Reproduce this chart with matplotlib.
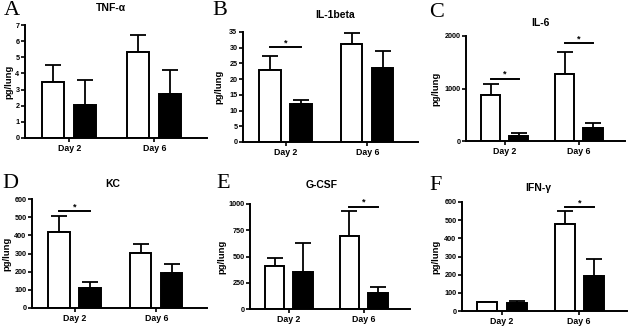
import matplotlib
matplotlib.use("Agg")
import matplotlib.pyplot as plt

plt.rcParams['font.family'] = ['Liberation Sans', 'DejaVu Sans']
plt.rcParams['font.weight'] = 'bold'

days = ["Day 2", "Day 6"]

# cytokine panels: means and upper error (top of bar whisker)
tnf_mean = [3.5, 5.3];   tnf_mean_b = [2.05, 2.7]
tnf_top = [4.5, 6.4];    tnf_top_b = [3.6, 4.2]
il1_mean = [22.8, 31.3]; il1_mean_b = [12.0, 23.6]
il1_top = [27.5, 34.8];  il1_top_b = [13.4, 29.0]
il6_mean = [870, 1280];  il6_mean_b = [100, 250]
il6_top = [1090, 1700];  il6_top_b = [160, 350]
kc_mean = [420, 305];    kc_mean_b = [108, 195]
kc_top = [505, 350];     kc_top_b = [143, 243]
gcsf_mean = [405, 695];  gcsf_mean_b = [355, 155]
gcsf_top = [490, 935];   gcsf_top_b = [630, 210]
ifn_mean = [47, 480];    ifn_mean_b = [46, 192]
ifn_top = [52, 550];     ifn_top_b = [53, 288]

titles = ["TNF-\u03b1", "IL-1beta", "IL-6", "KC", "G-CSF", "IFN-\u03b3"]
letters = ["A", "B", "C", "D", "E", "F"]
yticks = [list(range(0, 8)), list(range(0, 36, 5)), [0, 1000, 2000],
          list(range(0, 601, 100)), [0, 250, 500, 750, 1000], list(range(0, 601, 100))]
# significance bars: (day index, height)
sig = [[], [(0, 30.2)], [(0, 1190), (1, 1860)], [(0, 532)], [(1, 975)], [(1, 570)]]

data = [(tnf_mean, tnf_top, tnf_mean_b, tnf_top_b),
        (il1_mean, il1_top, il1_mean_b, il1_top_b),
        (il6_mean, il6_top, il6_mean_b, il6_top_b),
        (kc_mean, kc_top, kc_mean_b, kc_top_b),
        (gcsf_mean, gcsf_top, gcsf_mean_b, gcsf_top_b),
        (ifn_mean, ifn_top, ifn_mean_b, ifn_top_b)]

W, H = 628, 327
# axes boxes in pixels: left, right, top, bottom
boxes = [(25, 207, 25, 138), (243, 418, 32, 142), (466, 625, 36, 141),
         (32, 207, 199, 308), (250, 410, 204, 309), (462, 627, 202, 311)]
title_pos = [(111, 8), (335, 15), (540, 23), (113, 184), (322, 185), (538, 188)]
letter_pos = [(4, 1), (212, 1), (429, 3), (2, 174), (216, 174), (429, 176)]
ylab_x = [13, 223, 440, 11, 226, 440]

fig = plt.figure(figsize=(W / 100, H / 100), dpi=100)

bw = 0.26
off = 0.19
for i in range(6):
    l, r, t, b = boxes[i]
    ax = fig.add_axes([l / W, 1 - b / H, (r - l) / W, (b - t) / H])
    m1, t1, m2, t2 = data[i]
    x = [0, 1]
    for k in x:
        ax.bar(k - off, m1[k], bw, color="white", edgecolor="black", lw=1.4, zorder=2)
        ax.bar(k + off, m2[k], bw, color="black", edgecolor="black", lw=1.4, zorder=2)
        ax.errorbar(k - off, m1[k], yerr=[[0], [t1[k] - m1[k]]], fmt="none",
                    ecolor="black", elinewidth=1.3, capsize=6, capthick=1.3, zorder=1)
        ax.errorbar(k + off, m2[k], yerr=[[0], [t2[k] - m2[k]]], fmt="none",
                    ecolor="black", elinewidth=1.3, capsize=6, capthick=1.3, zorder=1)
    for d, h in sig[i]:
        ax.plot([d - off, d + off], [h, h], color="black", lw=1.4, clip_on=False)
        ax.text(d, h, "*", ha="center", va="bottom", fontsize=6.5, fontweight="bold")
    ax.set_xlim(-0.52, 1.62)
    ax.set_ylim(0, yticks[i][-1])
    ax.set_yticks(yticks[i])
    ax.set_xticks(x)
    ax.set_xticklabels(days)
    for s in ["top", "right"]:
        ax.spines[s].set_visible(False)
    for s in ["left", "bottom"]:
        ax.spines[s].set_linewidth(1.4)
    ax.tick_params(direction="out", length=3, width=1.2, pad=1.5)
    ax.tick_params(axis="x", labelsize=6.3)
    ax.tick_params(axis="y", labelsize=5.2, pad=1)
    ax.set_ylabel("pg/lung", fontsize=6.8, fontweight="bold")
    ax.yaxis.set_label_coords((ylab_x[i] - l) / (r - l), 0.5)
    fig.text(title_pos[i][0] / W, 1 - title_pos[i][1] / H, titles[i], ha="center",
             va="center", fontsize=7.5, fontweight="bold")
    fig.text(letter_pos[i][0] / W, 1 - letter_pos[i][1] / H, letters[i], ha="left",
             va="top", fontsize=16, family="Liberation Serif", fontweight="normal")

fig.savefig("out.png", dpi=100)
